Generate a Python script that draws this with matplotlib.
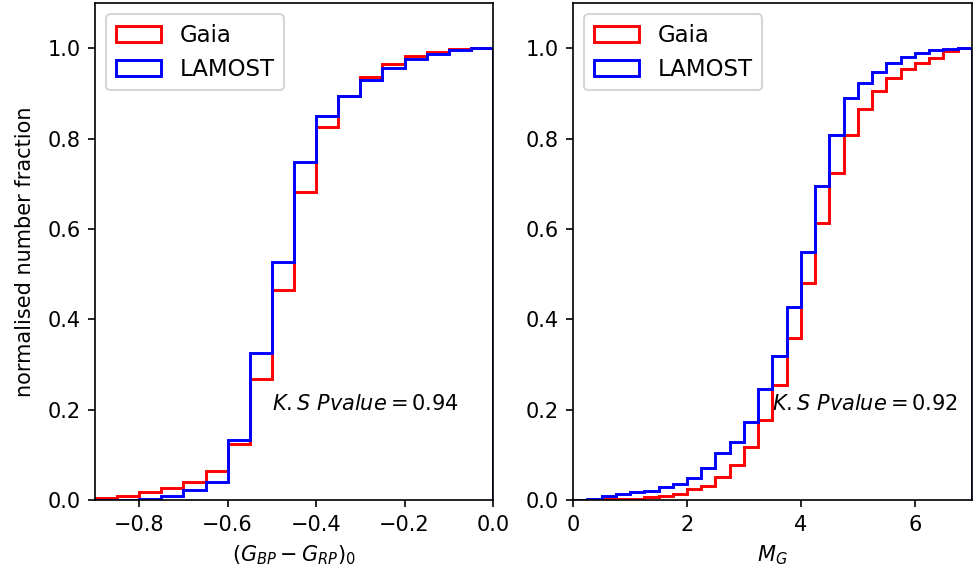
import numpy as np
import matplotlib
matplotlib.use('Agg')
import matplotlib.pyplot as plt

# colour (G_BP - G_RP)_0 : cumulative fraction per bin (width 0.05)
colour_edges = np.arange(-0.9, 0.0001, 0.05)
colour_gaia = [0.004, 0.009, 0.017, 0.027, 0.040, 0.065, 0.125, 0.268, 0.465,
               0.682, 0.826, 0.894, 0.937, 0.965, 0.982, 0.991, 0.998, 1.000]
colour_lamost = [0.001, 0.001, 0.002, 0.008, 0.022, 0.040, 0.133, 0.326, 0.526,
                 0.748, 0.850, 0.894, 0.929, 0.957, 0.975, 0.988, 0.997, 1.000]

# absolute magnitude M_G : cumulative fraction per bin (width 0.25)
mag_edges = np.arange(0.0, 7.0001, 0.25)
mag_gaia = [0.000, 0.000, 0.0015, 0.002, 0.003, 0.006, 0.009, 0.014, 0.024, 0.032,
            0.052, 0.077, 0.118, 0.177, 0.255, 0.359, 0.481, 0.612, 0.724, 0.807,
            0.865, 0.905, 0.934, 0.953, 0.967, 0.979, 0.993, 1.000]
mag_lamost = [0.000, 0.002, 0.009, 0.013, 0.017, 0.019, 0.028, 0.035, 0.049, 0.070,
              0.103, 0.129, 0.172, 0.246, 0.319, 0.428, 0.549, 0.696, 0.807, 0.889,
              0.924, 0.948, 0.967, 0.981, 0.990, 0.995, 0.998, 1.000]
mag_ticks = [0, 2, 4, 6]

pvalues = [0.94, 0.92]

fig = plt.figure(figsize=(6.5, 3.8467), dpi=150)
ax1 = fig.add_axes([0.0974, 0.1334, 0.4082, 0.8614])
ax2 = fig.add_axes([0.5877, 0.1334, 0.4092, 0.8614])


def draw_panel(ax, edges, gaia, lamost):
    centres = 0.5 * (edges[:-1] + edges[1:])
    ax.hist(centres, bins=edges, weights=gaia, histtype='step', color='r',
            linewidth=1.4, label='Gaia')
    ax.hist(centres, bins=edges, weights=lamost, histtype='step', color='b',
            linewidth=1.4, label='LAMOST')
    ax.set_xlim(edges[0], edges[-1])
    ax.set_ylim(0, 1.1)
    ax.legend(loc='upper left', fontsize=11)


draw_panel(ax1, colour_edges, colour_gaia, colour_lamost)
ax1.set_xlabel(r'$(G_{BP}-G_{RP})_0$')
ax1.set_ylabel('normalised number fraction', labelpad=6)
ax1.text(-0.5, 0.2, r'$K.S\ Pvalue = %.2f$' % pvalues[0])

draw_panel(ax2, mag_edges, mag_gaia, mag_lamost)
ax2.set_xticks(mag_ticks)
ax2.set_xlabel(r'$M_G$')
ax2.text(3.5, 0.2, r'$K.S\ Pvalue = %.2f$' % pvalues[1])

fig.savefig('out.png', dpi=150)
